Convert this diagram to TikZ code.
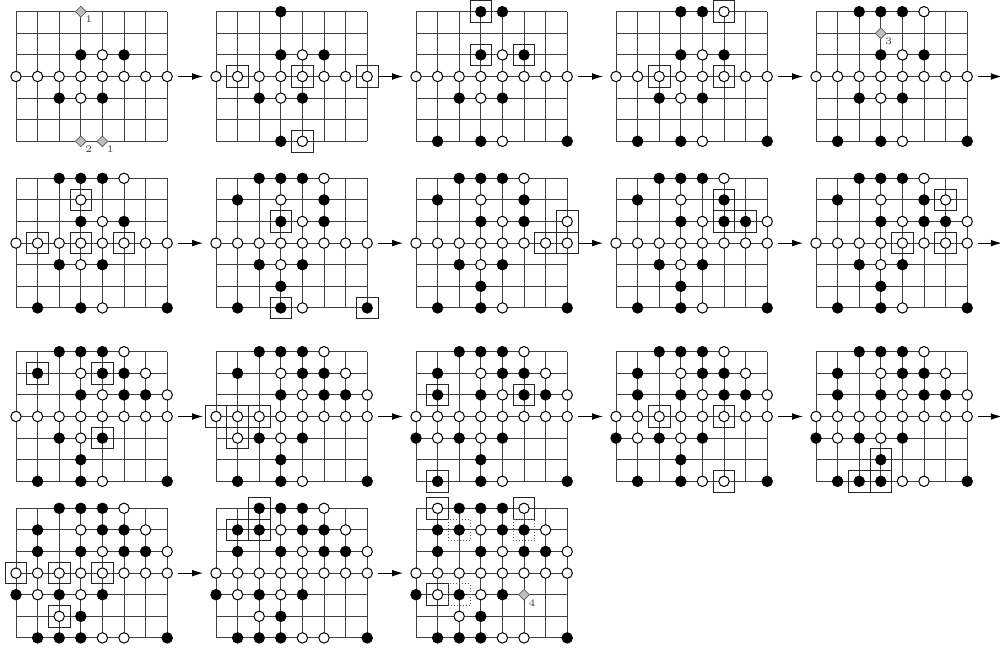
\documentclass[tikz,border=0pt]{standalone}
\usepackage{tikz}
\usetikzlibrary{arrows.meta,shapes.geometric}

\newcommand{\gs}{10.8pt}
\tikzset{
  gridln/.style={black!75,line width=0.5pt},
  bstone/.style={draw=black,fill=black,line width=0.5pt},
  wstone/.style={draw=black,fill=white,line width=0.5pt},
  markbox/.style={draw=black!85,line width=0.5pt},
  dotbox/.style={draw=black!65,line width=0.5pt,dash pattern=on 0.6pt off 0.9pt},
  diam/.style={draw=black!60,fill=black!25,diamond,minimum size=5.5pt,inner sep=0pt,line width=0.4pt},
  lbl/.style={font=\fontsize{5}{6}\selectfont,inner sep=0.6pt,text=black!75},
  arr/.style={-{Latex[length=5.5pt,width=3.4pt]},line width=0.5pt},
  board/.style 2 args={shift={(#1pt,-#2pt)},x=\gs,y=-\gs}
}

% #1 name, #2/#3 top left (pt), #4 black, #5 white, #6 boxed points
% (the middle row is white on every board)
\newcommand{\goban}[6]{%
  \begin{scope}[board={#2}{#3}]
    \foreach \i in {0,...,7} \draw[gridln] (\i,0) -- (\i,6);
    \foreach \j in {0,...,6} \draw[gridln] (0,\j) -- (7,\j);
    \foreach \c/\r in {#6} \draw[markbox] (\c-0.5,\r-0.5) rectangle (\c+0.5,\r+0.5);
    \foreach \c/\r in {#4} \draw[bstone] (\c,\r) circle[radius=2.6pt];
    \foreach \c/\r in {#5} \draw[wstone] (\c,\r) circle[radius=2.6pt];
    \foreach \c in {0,...,7} \draw[wstone] (\c,3) circle[radius=2.6pt];
    \coordinate (#1w) at (-0.6,3);
    \coordinate (#1e) at (7.5,3);
    \coordinate (#1o) at (8.6,3);
  \end{scope}}

\begin{document}
\begin{tikzpicture}
\useasboundingbox (0,0) rectangle (500pt,-324pt);

% row 1
\goban{b1}{8}{5.85}{3/2,5/2,2/4,4/4}{4/2,3/4}{}
\goban{b2}{108}{5.85}{3/0,3/2,5/2,2/4,4/4,3/6}{4/2,3/4,4/6}{1/3,4/3,7/3,4/6}
\goban{b3}{208}{5.85}{3/0,4/0,3/2,5/2,2/4,4/4,1/6,3/6,7/6}{4/2,3/4,4/6}{3/0,3/2,5/2}
\goban{b4}{308}{5.85}{3/0,4/0,3/2,5/2,2/4,4/4,1/6,3/6,7/6}{5/0,4/2,3/4,4/6}{5/0,2/3,5/3}
\goban{b5}{408}{5.85}{2/0,3/0,4/0,3/2,5/2,2/4,4/4,1/6,3/6,7/6}{5/0,4/2,3/4,4/6}{}

\begin{scope}[board={8}{5.85}]
  \node[diam,label={[lbl]south east:1}] (d1) at (3,0) {};
  \node[diam,label={[lbl]south east:2}] (d2) at (3,6) {};
  \node[diam,label={[lbl]south east:1}] (d3) at (4,6) {};
\end{scope}
\begin{scope}[board={408}{5.85}]
  \node[diam,label={[lbl]south east:3}] (d4) at (3,1) {};
\end{scope}

% row 2
\goban{b6}{8}{89.15}{2/0,3/0,4/0,3/2,5/2,2/4,4/4,1/6,3/6,7/6}{5/0,3/1,4/2,3/4,4/6}{3/1,1/3,3/3,5/3}
\goban{b7}{108}{89.15}{2/0,3/0,4/0,1/1,5/1,3/2,5/2,2/4,4/4,3/5,1/6,3/6,7/6}{5/0,3/1,4/2,3/4,4/6}{3/2,3/6,7/6}
\goban{b8}{208}{89.15}{2/0,3/0,4/0,1/1,5/1,3/2,5/2,2/4,4/4,3/5,1/6,3/6,7/6}{5/0,3/1,4/2,7/2,3/4,4/6}{7/2,6/3,7/3}
\goban{b9}{308}{89.15}{2/0,3/0,4/0,1/1,5/1,3/2,5/2,6/2,2/4,4/4,3/5,1/6,3/6,7/6}{5/0,3/1,4/2,7/2,3/4,4/6}{5/1,5/2,6/2}
\goban{b10}{408}{89.15}{2/0,3/0,4/0,1/1,5/1,3/2,5/2,6/2,2/4,4/4,3/5,1/6,3/6,7/6}{5/0,3/1,6/1,4/2,7/2,3/4,4/6}{6/1,4/3,6/3}

% row 3
\goban{b11}{8}{175.85}{2/0,3/0,4/0,1/1,4/1,5/1,3/2,5/2,6/2,2/4,4/4,3/5,1/6,3/6,7/6}{5/0,3/1,6/1,4/2,7/2,3/4,4/6}{1/1,4/1,4/4}
\goban{b12}{108}{175.85}{2/0,3/0,4/0,1/1,4/1,5/1,3/2,5/2,6/2,2/4,4/4,3/5,1/6,3/6,7/6}{5/0,3/1,6/1,4/2,7/2,1/4,3/4,4/6}{0/3,1/3,2/3,1/4}
\goban{b13}{208}{175.85}{2/0,3/0,4/0,1/1,4/1,5/1,1/2,3/2,5/2,6/2,0/4,2/4,4/4,3/5,1/6,3/6,7/6}{5/0,3/1,6/1,4/2,7/2,1/4,3/4,4/6}{1/2,5/2,1/6}
\goban{b14}{308}{175.85}{2/0,3/0,4/0,1/1,4/1,5/1,1/2,3/2,5/2,6/2,0/4,2/4,4/4,3/5,1/6,3/6,7/6}{5/0,3/1,6/1,4/2,7/2,1/4,3/4,4/6,5/6}{2/3,5/3,5/6}
\goban{b15}{408}{175.85}{2/0,3/0,4/0,1/1,4/1,5/1,1/2,3/2,5/2,6/2,0/4,2/4,4/4,3/5,1/6,2/6,3/6,7/6}{5/0,3/1,6/1,4/2,7/2,1/4,3/4,4/6,5/6}{3/5,2/6,3/6}

% row 4
\goban{b16}{8}{254.15}{2/0,3/0,4/0,1/1,4/1,5/1,1/2,3/2,5/2,6/2,0/4,2/4,4/4,3/5,1/6,2/6,3/6,7/6}{5/0,3/1,6/1,4/2,7/2,1/4,3/4,2/5,4/6,5/6}{0/3,2/3,4/3,2/5}
\goban{b17}{108}{254.15}{2/0,3/0,4/0,1/1,2/1,4/1,5/1,1/2,3/2,5/2,6/2,0/4,2/4,4/4,3/5,1/6,2/6,3/6,7/6}{5/0,3/1,6/1,4/2,7/2,1/4,3/4,2/5,4/6,5/6}{2/0,1/1,2/1}
\goban{b18}{208}{254.15}{2/0,3/0,4/0,1/1,2/1,4/1,5/1,1/2,3/2,5/2,6/2,0/4,2/4,4/4,3/5,1/6,2/6,3/6,7/6}{1/0,5/0,3/1,6/1,4/2,7/2,1/4,3/4,2/5,4/6,5/6}{1/0,5/0,1/4}

\begin{scope}[board={208}{254.15}]
  \foreach \c/\r in {2/1,5/1,2/4} \draw[dotbox] (\c-0.5,\r-0.5) rectangle (\c+0.5,\r+0.5);
  \node[diam,label={[lbl]south east:4}] (d5) at (5,4) {};
\end{scope}

% moves
\foreach \a/\b in {b1/b2,b2/b3,b3/b4,b4/b5,b6/b7,b7/b8,b8/b9,b9/b10,
                   b11/b12,b12/b13,b13/b14,b14/b15,b16/b17,b17/b18}
  \draw[arr] (\a e) -- (\b w);
\foreach \a in {b5,b10,b15}
  \draw[arr] (\a e) -- (\a o);

\end{tikzpicture}
\end{document}
